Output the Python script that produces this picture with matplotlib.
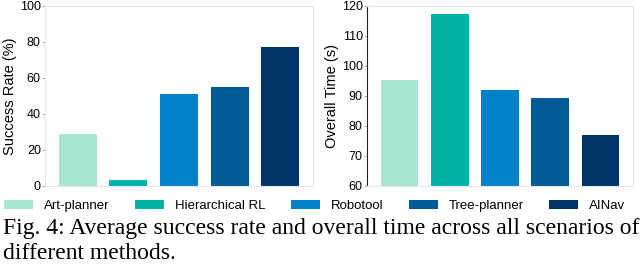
import matplotlib.pyplot as plt

methods = ["Art-planner", "Hierarchical RL", "Robotool", "Tree-planner", "AINav"]
success_rate = [29, 3.5, 51, 55, 77]
overall_time = [95.3, 117.3, 92, 89.3, 77]
colors = ["#a8e6cf", "#00b3a4", "#0082c8", "#005b96", "#003366"]


def style_axis(ax, dark_left=False):
    for s in ax.spines.values():
        s.set_color("#e6e6e6")
        s.set_linewidth(0.8)
    if dark_left:
        ax.spines["left"].set_color("#222222")
    ax.set_xticks([])
    ax.tick_params(axis="y", labelsize=9, length=2, width=0.5, pad=1, color="#888888")


def main():
    plt.rcParams["font.family"] = ["Liberation Sans", "DejaVu Sans"]
    fig = plt.figure(figsize=(6.4, 2.69), dpi=100)

    ax1 = fig.add_axes([45 / 640, 1 - 186 / 269, 268 / 640, 180 / 269])
    ax2 = fig.add_axes([367 / 640, 1 - 186 / 269, 266 / 640, 180 / 269])

    x = range(len(methods))
    bars = ax1.bar(x, success_rate, width=0.75, color=colors)
    ax1.set_ylim(0, 100)
    ax1.set_xlim(-0.65, 4.65)
    ax1.set_ylabel("Success Rate (%)", fontsize=10.5, labelpad=2)
    style_axis(ax1)

    ax2.bar(x, overall_time, width=0.75, color=colors)
    ax2.set_ylim(60, 120)
    ax2.set_xlim(-0.65, 4.65)
    ax2.set_ylabel("Overall Time (s)", fontsize=10.5, labelpad=2)
    style_axis(ax2, dark_left=True)

    # legend below
    fig.legend(bars, methods, loc="center left", bbox_to_anchor=(4 / 640, 1 - 206 / 269),
               ncol=5, frameon=False, fontsize=9.5, handlelength=2.2,
               handleheight=0.6, columnspacing=1.9, handletextpad=0.85,
               borderpad=0, borderaxespad=0)

    fig.text(0.004, 1 - 241 / 269,
             "Fig. 4: Average success rate and overall time across all scenarios of\ndifferent methods.",
             family=["Liberation Serif", "DejaVu Serif"], fontsize=17,
             va="center", ha="left", linespacing=1.2)

    fig.savefig("out.png", dpi=100)


if __name__ == "__main__":
    main()
